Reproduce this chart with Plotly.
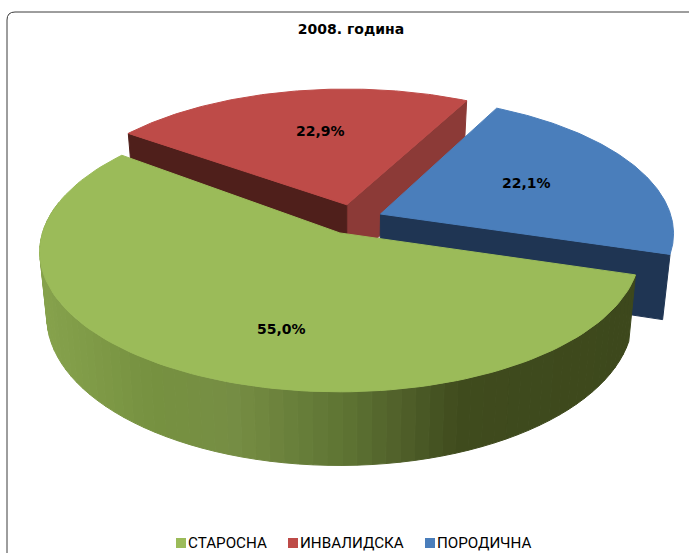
import math
import plotly.graph_objects as go

# ---- data ----
categories = ["СТАРОСНА", "ИНВАЛИДСКА", "ПОРОДИЧНА"]
values = [55.0, 22.9, 22.1]
value_labels = ["55,0%", "22,9%", "22,1%"]
title_text = "2008. година"

# ---- style ----
top_colors = ["#9BBB59", "#BE4B48", "#4A7EBB"]
cut_colors = [None, "#4F1F1B", "#1F3553"]
red_right_cut = "#8C3A37"
wall_stops = [(40, (134, 162, 76)), (150, (118, 145, 64)), (230, (118, 142, 68)),
              (350, (93, 114, 50)), (400, (80, 96, 42)), (460, (63, 75, 29)), (640, (61, 72, 28))]

# ---- projection of the pie plane onto the page ----
W, H = 689, 553
CX, CY, A, B, K = 345.0, 218.0, 297.0, 134.0, 0.13
DEPTH, SHRINK = 63.0, 0.977
START = -17.0
explode = {0: (-0.017, -0.11), 1: (0.006, 0.10), 2: (0.12, 0.03)}
x_scale = {0: 0.987, 1: 0.99, 2: 0.98}
warp = {0: 2.5, 1: 1.0, 2: 0.0}
WARP_AT, WARP_WIDTH = 146.0, 25.0


def top(px, py):
    s = 1 / (1 + K * py)
    return CX + A * px * s, CY - B * py * s


def bottom(px, py):
    s = 1 / (1 + K * py)
    x, y = top(px, py)
    return CX + (x - CX) * SHRINK, y + DEPTH * s


def rim(i, th):
    ox, oy = explode[i]
    d = ((th - WARP_AT) + 180) % 360 - 180
    t = math.radians(th - warp[i] * math.exp(-(d / WARP_WIDTH) ** 2))
    return ox + x_scale[i] * math.cos(t), oy + math.sin(t)


# slices run clockwise from START; the first value ends the sweep
spans = [v / sum(values) * 360 for v in values]
ranges = {
    2: (START + spans[2], START),
    1: (START + spans[2] + spans[1], START + spans[2]),
    0: (START, START - spans[0]),
}


def arc(a, b, n=120):
    return [a + (b - a) * j / n for j in range(n + 1)]


fig = go.Figure()


def poly(pts, color, line=None, width=1):
    fig.add_trace(go.Scatter(
        x=[p[0] for p in pts] + [pts[0][0]], y=[p[1] for p in pts] + [pts[0][1]],
        mode="lines", fill="toself", fillcolor=color,
        line=dict(color=line or color, width=width),
        hoverinfo="skip", showlegend=False))


def top_face(i):
    a, b_ = ranges[i]
    pts = [top(*explode[i])] + [top(*rim(i, t)) for t in arc(a, b_)]
    poly(pts, top_colors[i], line=top_colors[i], width=1)


def cut_face(i, th, color):
    ap, e = explode[i], rim(i, th)
    poly([top(*ap), top(*e), bottom(*e), bottom(*ap)], color)


def wall_color(x):
    for (x0, c0), (x1, c1) in zip(wall_stops, wall_stops[1:]):
        if x <= x1:
            f = max(0.0, (x - x0) / (x1 - x0))
            return "rgb(%d,%d,%d)" % tuple(round(c0[k] + (c1[k] - c0[k]) * f) for k in range(3))
    return "rgb(%d,%d,%d)" % wall_stops[-1][1]


# red slice
cut_face(1, ranges[1][1], red_right_cut)
cut_face(1, ranges[1][0], cut_colors[1])
top_face(1)
# blue slice
cut_face(2, ranges[2][1], cut_colors[2])
top_face(2)
# green slice: the wall is a row of thin shaded strips
g0, g1 = ranges[0][0], -190.0
th = g0
while th > g1:
    nxt = th - 2.5
    p = [rim(0, t) for t in (th, nxt)]
    pts = [top(*p[0]), top(*p[1]), bottom(*p[1]), bottom(*p[0])]
    poly(pts, wall_color(top(*rim(0, (th + nxt) / 2))[0]))
    th = nxt
top_face(0)

# ---- value labels ----
label_xy = [(281, 329), (320, 131), (526, 183)]
for (lx, ly), txt in zip(label_xy, value_labels):
    fig.add_annotation(x=lx, y=ly, text=f"<b>{txt}</b>", showarrow=False,
                       font=dict(family="DejaVu Sans", size=14, color="#000000"))

# ---- legend ----
swatch_x = [176, 288, 425]
for sx, name, c in zip(swatch_x, categories, top_colors):
    fig.add_shape(type="rect", x0=sx, x1=sx + 10, y0=538, y1=548, fillcolor=c, line_width=0)
    fig.add_annotation(x=sx + 10, y=543, text=name, showarrow=False, xanchor="left",
                       font=dict(family="Roboto", size=15.2, color="#000000"))

# ---- chart frame (cut by the page at right and bottom) ----
fig.add_shape(type="path", path=f"M7,{H} L7,20 Q7,12 15,12 L{W},12",
              line=dict(color="#3c3c3c", width=1), layer="below")

fig.update_layout(
    width=W, height=H, margin=dict(l=0, r=0, t=0, b=0),
    paper_bgcolor="white", plot_bgcolor="white", showlegend=False,
    xaxis=dict(range=[0, W], visible=False, fixedrange=True),
    yaxis=dict(range=[H, 0], visible=False, fixedrange=True),
    title=dict(text=f"<b>{title_text}</b>", x=351 / W, xanchor="center", y=1 - 29 / H, yanchor="middle",
               font=dict(family="DejaVu Sans", size=14, color="#000000")),
)
fig.write_html("out.html", config={"displayModeBar": False},
               post_script="document.body.style.margin='0';document.body.style.overflow='hidden';")
